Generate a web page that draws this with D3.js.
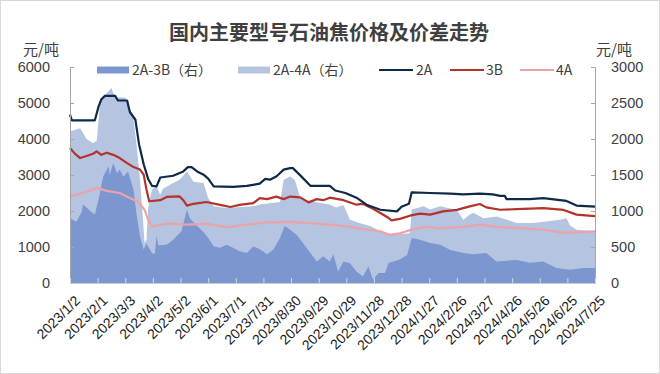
<!DOCTYPE html>
<html><head><meta charset="utf-8">
<script src="https://cdn.jsdelivr.net/npm/d3@7/dist/d3.min.js"></script>
<style>
html,body{margin:0;padding:0;background:#fff;}
svg{display:block;font-family:"Noto Sans CJK SC","Noto Sans",sans-serif;}
</style></head>
<body>
<svg id="c" width="660" height="374"></svg>
<script>
const title = "国内主要型号石油焦价格及价差走势";
const seriesNames = ["2A-3B（右）", "2A-4A（右）", "2A", "3B", "4A"];
const xTickLabels = ["2023/1/2","2023/2/1","2023/3/3","2023/4/2","2023/5/2","2023/6/1","2023/7/1","2023/7/31","2023/8/30","2023/9/29","2023/10/29","2023/11/28","2023/12/28","2024/1/27","2024/2/26","2024/3/27","2024/4/26","2024/5/26","2024/6/25","2024/7/25"];
const leftTicks = [0,1000,2000,3000,4000,5000,6000];
const rightTicks = [0,500,1000,1500,2000,2500,3000];

// 2A price (left axis)
const dates2A = ["2023-01-02","2023-01-04","2023-01-29","2023-02-02","2023-02-05","2023-02-09","2023-02-20","2023-02-23","2023-03-05","2023-03-08","2023-03-14","2023-03-18","2023-03-23","2023-03-28","2023-04-01","2023-04-06","2023-04-10","2023-04-24","2023-05-05","2023-05-10","2023-05-14","2023-05-20","2023-05-27","2023-06-01","2023-06-07","2023-06-28","2023-07-13","2023-07-27","2023-08-02","2023-08-07","2023-08-14","2023-08-22","2023-08-29","2023-09-01","2023-09-09","2023-09-20","2023-10-11","2023-10-17","2023-10-28","2023-11-09","2023-11-20","2023-12-05","2023-12-23","2023-12-28","2024-01-05","2024-01-08","2024-01-28","2024-02-19","2024-03-04","2024-03-22","2024-04-05","2024-04-13","2024-04-18","2024-04-20","2024-05-15","2024-05-30","2024-06-17","2024-06-24","2024-07-05","2024-07-25"];
const price2A = [4675,4520,4520,4900,5100,5200,5200,5070,5070,4750,4535,3850,3300,2880,2700,2685,2930,2980,3100,3220,3220,3100,3008,2900,2685,2670,2700,2760,2890,2870,2960,3150,3190,3190,2990,2700,2700,2570,2500,2370,2175,2035,1990,2120,2200,2520,2500,2480,2460,2480,2460,2420,2420,2330,2330,2360,2300,2280,2150,2120];

// 3B price (left axis)
const dates3B = ["2023-01-02","2023-01-07","2023-01-13","2023-01-20","2023-01-27","2023-01-31","2023-02-05","2023-02-11","2023-02-18","2023-02-25","2023-03-05","2023-03-12","2023-03-19","2023-03-23","2023-03-26","2023-03-29","2023-04-10","2023-04-17","2023-05-01","2023-05-05","2023-05-09","2023-05-16","2023-05-30","2023-06-14","2023-06-25","2023-07-05","2023-07-20","2023-07-27","2023-08-04","2023-08-14","2023-08-22","2023-08-29","2023-09-09","2023-09-18","2023-09-27","2023-10-04","2023-10-11","2023-10-26","2023-11-09","2023-11-16","2023-11-24","2023-12-05","2023-12-14","2023-12-17","2023-12-26","2024-01-06","2024-01-17","2024-01-28","2024-02-11","2024-02-26","2024-03-11","2024-03-22","2024-03-29","2024-04-13","2024-05-01","2024-05-30","2024-06-21","2024-07-05","2024-07-25"];
const price3B = [3750,3600,3470,3530,3590,3655,3560,3620,3560,3470,3330,3220,3150,3010,2600,2270,2300,2390,2405,2300,2150,2200,2250,2170,2110,2170,2220,2360,2330,2400,2330,2400,2380,2240,2330,2300,2370,2300,2175,2200,2100,1945,1805,1740,1780,1870,1925,1900,1990,2030,2130,2195,2100,2035,2050,2080,2030,1900,1860];

// 4A price (left axis)
const dates4A = ["2023-01-02","2023-01-16","2023-01-31","2023-02-11","2023-02-25","2023-03-08","2023-03-17","2023-03-24","2023-03-28","2023-04-01","2023-04-17","2023-05-09","2023-05-30","2023-06-21","2023-07-13","2023-08-04","2023-08-29","2023-09-20","2023-10-11","2023-11-02","2023-11-16","2023-12-05","2023-12-15","2023-12-26","2024-01-10","2024-01-24","2024-02-08","2024-03-04","2024-03-22","2024-04-09","2024-05-01","2024-05-30","2024-06-21","2024-07-12","2024-07-25"];
const price4A = [2405,2500,2640,2560,2500,2360,2250,2035,1750,1575,1650,1620,1640,1555,1620,1685,1700,1660,1620,1560,1500,1435,1340,1380,1500,1560,1520,1560,1620,1560,1530,1480,1390,1420,1435];

// 2A-4A spread (right axis)
const datesS4 = ["2023-01-02","2023-01-13","2023-01-20","2023-01-27","2023-01-31","2023-02-04","2023-02-11","2023-02-16","2023-02-18","2023-02-22","2023-03-03","2023-03-06","2023-03-12","2023-03-15","2023-03-19","2023-03-22","2023-03-24","2023-03-26","2023-03-28","2023-04-01","2023-04-06","2023-04-10","2023-04-13","2023-04-24","2023-05-01","2023-05-09","2023-05-16","2023-05-27","2023-06-01","2023-06-07","2023-06-21","2023-07-20","2023-07-27","2023-08-18","2023-08-22","2023-08-29","2023-09-03","2023-09-09","2023-09-20","2023-10-11","2023-10-18","2023-10-26","2023-11-02","2023-11-13","2023-11-24","2023-12-05","2023-12-19","2024-01-06","2024-01-08","2024-01-21","2024-01-28","2024-02-08","2024-02-26","2024-03-04","2024-03-11","2024-03-15","2024-03-26","2024-04-09","2024-05-01","2024-05-19","2024-06-02","2024-06-17","2024-06-24","2024-06-28","2024-07-05","2024-07-25"];
const spread2A4A = [2105,2150,2000,1945,1975,2545,2640,2710,2640,2575,2575,2500,2270,1950,1435,925,555,600,1065,1295,1340,1225,1310,1390,1435,1550,1405,1390,1180,1065,1040,1065,1090,1125,1435,1480,1435,1180,1135,1090,1050,1085,880,830,790,720,670,690,1020,1065,1020,1065,1015,880,950,975,900,925,835,835,855,880,900,800,740,720];

// 2A-3B spread (right axis)
const datesS3 = ["2023-01-02","2023-01-09","2023-01-15","2023-01-16","2023-01-20","2023-01-26","2023-01-29","2023-02-02","2023-02-07","2023-02-13","2023-02-14","2023-02-18","2023-02-22","2023-02-25","2023-03-01","2023-03-06","2023-03-12","2023-03-15","2023-03-19","2023-03-23","2023-03-26","2023-04-01","2023-04-04","2023-04-06","2023-04-08","2023-04-17","2023-04-24","2023-05-03","2023-05-09","2023-05-12","2023-05-20","2023-05-27","2023-06-01","2023-06-07","2023-06-14","2023-06-21","2023-06-28","2023-07-05","2023-07-13","2023-07-20","2023-07-27","2023-08-04","2023-08-11","2023-08-18","2023-08-23","2023-08-29","2023-09-05","2023-09-12","2023-09-20","2023-09-27","2023-10-04","2023-10-11","2023-10-15","2023-10-20","2023-10-26","2023-11-02","2023-11-09","2023-11-16","2023-11-22","2023-11-27","2023-12-03","2023-12-10","2023-12-14","2023-12-19","2023-12-26","2024-01-03","2024-01-08","2024-01-17","2024-01-28","2024-02-08","2024-02-19","2024-03-04","2024-03-15","2024-03-29","2024-04-09","2024-05-01","2024-05-15","2024-05-30","2024-06-13","2024-06-28","2024-07-12","2024-07-25"];
const spread2A3B = [900,850,995,1090,1050,975,950,1160,1480,1620,1500,1665,1525,1575,1475,1550,1295,975,650,465,550,415,400,650,525,530,600,720,1020,900,790,710,625,510,490,530,490,440,415,510,470,400,470,625,790,740,670,555,415,300,370,300,400,160,300,275,160,90,230,45,140,140,280,300,325,390,625,600,555,530,460,415,400,415,300,320,280,300,210,185,210,210];

const colors = {s3:"#7c97cf", s4:"#b5c4e0", a2:"#0f2a48", b3:"#b3332a", a4:"#eca3a8"};

const svg = d3.select("#c");
const parse = d3.timeParse("%Y-%m-%d");
const M = {l:70, r:595, t:67, b:283};

svg.append("rect").attr("x",0.5).attr("y",0.5).attr("width",659).attr("height",373)
  .attr("fill","#fff").attr("stroke","#d9d9d9");

const x = d3.scaleTime().domain([parse("2023-01-02"), parse("2024-07-25")]).range([M.l, M.r]);
const yL = d3.scaleLinear().domain([0,6000]).range([M.b, M.t]);
const yR = d3.scaleLinear().domain([0,3000]).range([M.b, M.t]);

function pts(ds, vs){ return ds.map((d,i)=>({d:parse(d), v:vs[i]})); }

const areaR = d3.area().x(p=>x(p.d)).y0(yR(0)).y1(p=>yR(p.v));
svg.append("path").datum(pts(datesS4, spread2A4A)).attr("d", areaR).attr("fill", colors.s4);
svg.append("path").datum(pts(datesS3, spread2A3B)).attr("d", areaR).attr("fill", colors.s3);

const lineL = d3.line().x(p=>x(p.d)).y(p=>yL(p.v));
svg.append("path").datum(pts(dates4A, price4A)).attr("d", lineL).attr("fill","none").attr("stroke",colors.a4).attr("stroke-width",2.2);
svg.append("path").datum(pts(dates3B, price3B)).attr("d", lineL).attr("fill","none").attr("stroke",colors.b3).attr("stroke-width",2.2).attr("stroke-linejoin","round");
svg.append("path").datum(pts(dates2A, price2A)).attr("d", lineL).attr("fill","none").attr("stroke",colors.a2).attr("stroke-width",2.2).attr("stroke-linejoin","round");

// axes
const axisColor = "#a6a6a6";
const gl = svg.append("g").attr("transform",`translate(${M.l},0)`)
  .call(d3.axisLeft(yL).tickValues(leftTicks).tickSize(-4).tickPadding(20).tickFormat(d3.format("d")));
const gr = svg.append("g").attr("transform",`translate(${M.r},0)`)
  .call(d3.axisRight(yR).tickValues(rightTicks).tickSize(-4).tickPadding(16).tickFormat(d3.format("d")));
[gl,gr].forEach(g=>{
  g.select(".domain").attr("stroke",axisColor);
  g.selectAll(".tick line").attr("stroke",axisColor);
  g.selectAll(".tick text").attr("fill","#404040").attr("font-size",14.5);
});

const fmtIn = d3.timeParse("%Y/%m/%d");
const xTicks = xTickLabels.map(s=>fmtIn(s));
const gx = svg.append("g").attr("transform",`translate(0,${M.b})`)
  .call(d3.axisBottom(x).tickValues(xTicks).tickSize(-5).tickFormat((d,i)=>xTickLabels[i]));
gx.select(".domain").attr("stroke","#c8cedb");
gx.selectAll(".tick line").attr("stroke","#d0d7e6");
gx.selectAll(".tick text").attr("fill","#1a1a1a").attr("font-size",14)
  .attr("text-anchor","end").attr("dy",0)
  .attr("transform","translate(5,13) rotate(-45)")
  .attr("y",4).attr("x",0).attr("dominant-baseline","middle");

// title & units
svg.append("text").attr("x",329).attr("y",40).attr("text-anchor","middle")
  .attr("font-size",20).attr("font-weight","bold").attr("fill","#404040").text(title);
svg.append("text").attr("x",41).attr("y",55).attr("text-anchor","middle").attr("font-size",15).attr("fill","#404040").text("元/吨");
svg.append("text").attr("x",614).attr("y",55).attr("text-anchor","middle").attr("font-size",15).attr("fill","#404040").text("元/吨");

// legend
const ly = 70;
const lg = svg.append("g").attr("font-size",14).attr("fill","#404040");
const legendItems = [
  {type:"rect", c:colors.s3, x:97, tx:132, name:seriesNames[0]},
  {type:"rect", c:colors.s4, x:238, tx:273, name:seriesNames[1]},
  {type:"line", c:colors.a2, x:379, tx:416, name:seriesNames[2]},
  {type:"line", c:colors.b3, x:450, tx:486, name:seriesNames[3]},
  {type:"line", c:colors.a4, x:520, tx:556, name:seriesNames[4]}
];
legendItems.forEach(it=>{
  if(it.type==="rect"){
    lg.append("rect").attr("x",it.x).attr("y",ly-3.5).attr("width",32).attr("height",7).attr("fill",it.c);
  } else {
    lg.append("line").attr("x1",it.x).attr("x2",it.x+34).attr("y1",ly).attr("y2",ly).attr("stroke",it.c).attr("stroke-width",2.2);
  }
  lg.append("text").attr("x",it.tx).attr("y",ly).attr("dy","0.36em").attr("fill","#404040").text(it.name);
});
</script>
</body></html>
